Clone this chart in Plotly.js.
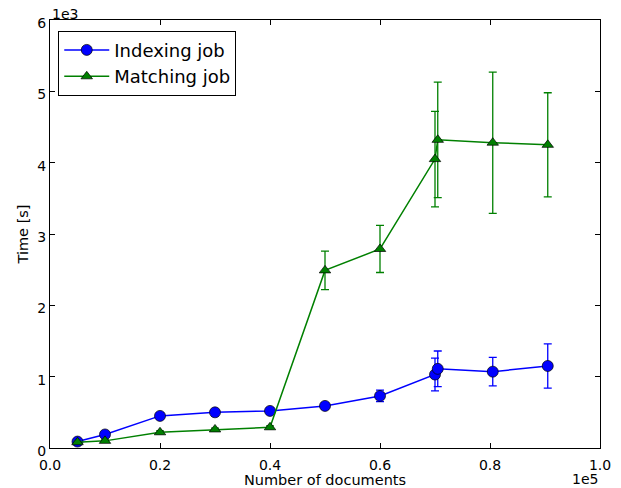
<!DOCTYPE html>
<html><head><meta charset="utf-8">
<script src="https://cdn.plot.ly/plotly-3.0.1.min.js"></script>
<style>html,body{margin:0;padding:0;background:#fff;}#chart{width:621px;height:488px;}</style>
</head><body><div id="chart"></div>
<script>
// Number of documents
const docs = [5000, 10000, 20000, 30000, 40000, 50000, 60000, 70000, 70500, 80500, 90500];
// Indexing job time [s] and std
const indexTime = [90, 190, 450, 500, 520, 590, 730, 1030, 1110, 1070, 1150];
const indexErr  = [20, 20, 20, 20, 20, 45, 80, 230, 250, 200, 310];
// Matching job time [s] and std
const matchTime = [80, 100, 220, 260, 290, 2490, 2790, 4050, 4320, 4280, 4250];
const matchErr  = [15, 15, 20, 20, 20, 270, 330, 670, 810, 990, 730];

const xTickVals = [0, 20000, 40000, 60000, 80000, 100000];
const xTickText = ['0.0', '0.2', '0.4', '0.6', '0.8', '1.0'];
const yTickVals = [0, 1000, 2000, 3000, 4000, 5000, 6000];
const yTickText = ['0', '1', '2', '3', '4', '5', '6'];

const font = 'DejaVu Sans, sans-serif';
const traces = [
  {x: docs, y: indexTime, name: 'Indexing job', type: 'scatter', mode: 'lines+markers',
   line: {color: '#0000ff', width: 1.5},
   marker: {symbol: 'circle', size: 11, color: '#0000ff', line: {color: '#000', width: 0.7}},
   error_y: {type: 'data', array: indexErr, visible: true, color: '#0000ff', thickness: 1.3, width: 4}},
  {x: docs, y: matchTime, name: 'Matching job', type: 'scatter', mode: 'lines+markers',
   line: {color: '#008000', width: 1.5},
   marker: {symbol: 'triangle-up', size: 10, color: '#008000', line: {color: '#000', width: 0.7}},
   error_y: {type: 'data', array: matchErr, visible: true, color: '#008000', thickness: 1.3, width: 4}}
];
const axisCommon = {showline: true, linecolor: '#000', linewidth: 1, mirror: 'ticks', ticks: 'inside',
  ticklen: 5, tickcolor: '#000', showgrid: false, zeroline: false,
  tickfont: {family: font, size: 14, color: '#000'}};
const layout = {
  width: 621, height: 488,
  margin: {l: 50, r: 21, t: 20, b: 40},
  paper_bgcolor: '#fff', plot_bgcolor: '#fff',
  font: {family: font, color: '#000'},
  showlegend: true,
  legend: {x: 0.015, y: 0.975, xanchor: 'left', yanchor: 'top', bgcolor: '#fff',
    bordercolor: '#000', borderwidth: 1, font: {family: font, size: 18, color: '#000'},
    itemwidth: 45, tracegroupgap: 2},
  xaxis: Object.assign({}, axisCommon, {range: [0, 100000], tickvals: xTickVals, ticktext: xTickText,
    ticklabelstandoff: 4,
    title: {text: 'Number of documents', font: {family: font, size: 14.5, color: '#000'}, standoff: 2}}),
  yaxis: Object.assign({}, axisCommon, {range: [0, 6000], tickvals: yTickVals, ticktext: yTickText,
    ticklabelshift: 3,
    title: {text: 'Time [s]', font: {family: font, size: 14.5, color: '#000'}, standoff: 5}}),
  annotations: [
    {text: '1e3', xref: 'paper', yref: 'paper', x: 0, y: 1, xanchor: 'left', yanchor: 'bottom',
     showarrow: false, font: {family: font, size: 14, color: '#000'}, yshift: -4},
    {text: '1e5', xref: 'paper', yref: 'paper', x: 1, y: 0, xanchor: 'right', yanchor: 'top',
     showarrow: false, font: {family: font, size: 14, color: '#000'}, yshift: -21}
  ]
};
Plotly.newPlot('chart', traces, layout, {displayModeBar: false, staticPlot: true});
</script></body></html>
